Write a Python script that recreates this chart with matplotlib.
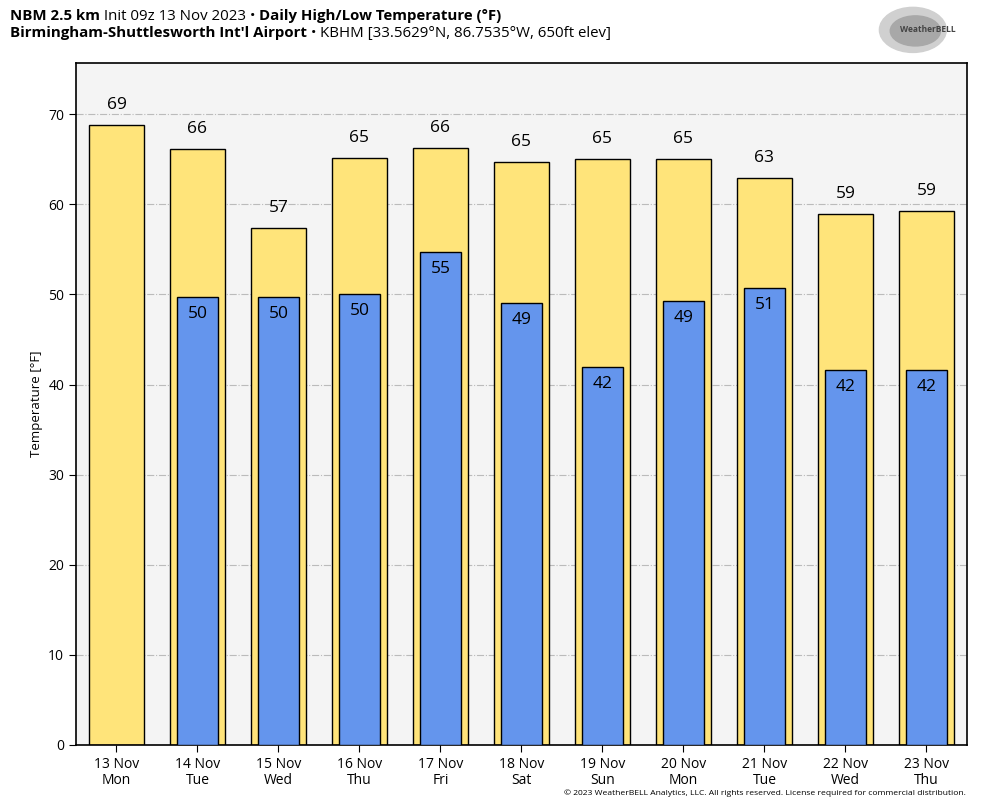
import matplotlib.pyplot as plt
from matplotlib.patches import Ellipse

plt.rcParams['font.family'] = ['Open Sans', 'DejaVu Sans']

# 日期与星期
dates = ['13 Nov', '14 Nov', '15 Nov', '16 Nov', '17 Nov', '18 Nov',
         '19 Nov', '20 Nov', '21 Nov', '22 Nov', '23 Nov']
days = ['Mon', 'Tue', 'Wed', 'Thu', 'Fri', 'Sat', 'Sun', 'Mon', 'Tue', 'Wed', 'Thu']

# 每日最高/最低气温 (°F)
highs = [68.8, 66.1, 57.4, 65.1, 66.3, 64.7, 65.0, 65.0, 62.9, 58.9, 59.3]
lows = [None, 49.7, 49.7, 50.0, 54.7, 49.1, 41.9, 49.3, 50.7, 41.6, 41.6]

fig = plt.figure(figsize=(9.84, 8.08), dpi=100)
ax = fig.add_axes([0.0772, 0.078, 0.9055, 0.844])
ax.set_facecolor('#f4f4f4')

x = list(range(len(dates)))

# 高温柱
ax.bar(x, highs, width=0.69, color='#ffe47a', edgecolor='black', linewidth=1, zorder=2)
for i, h in enumerate(highs):
    ax.annotate(f'{round(h)}', (i, h), xytext=(0, 20), textcoords='offset pixels',
                ha='center', va='center', fontsize=12.5, zorder=4)

# 低温柱
for i, lo in enumerate(lows):
    if lo is None:
        continue
    ax.bar(i, lo, width=0.5, color='#6495ed', edgecolor='black', linewidth=1, zorder=3)
    ax.annotate(f'{round(lo)}', (i, lo), xytext=(0, -17), textcoords='offset pixels',
                ha='center', va='center', fontsize=12.5, zorder=4)

ax.set_xlim(-0.5, len(dates) - 0.5)
ax.set_ylim(0, max(highs) * 1.1)
ax.set_yticks(range(0, 71, 10))
ax.set_xticks(x)
ax.set_xticklabels([f'{d}\n{w}' for d, w in zip(dates, days)], fontsize=10, linespacing=1.1)
ax.tick_params(axis='y', labelsize=10)
ax.tick_params(direction='out', length=5)
ax.grid(axis='y', color='#bbbbbb', linestyle='-.', linewidth=0.8, zorder=1)
ax.set_axisbelow(True)
for s in ax.spines.values():
    s.set_linewidth(1.2)
ax.set_ylabel('Temperature [°F]', fontsize=9.5)

# 标题 (混合粗细, 逐段排列)
renderer = fig.canvas.get_renderer()
def text_line(y, parts):
    xpix = 10
    for txt, w in parts:
        t = fig.text(xpix / 984, y, txt, fontsize=10.8, fontweight=w, va='baseline')
        xpix += t.get_window_extent(renderer).width

text_line(0.975, [('NBM 2.5 km', 'bold'), (' Init 09z 13 Nov 2023', 'normal'),
                  (' \u2022 ', 'normal'), ('Daily High/Low Temperature (°F)', 'bold')])
text_line(0.954, [('Birmingham-Shuttlesworth Int\u2032l Airport', 'bold'), (' \u2022 ', 'normal'),
                  ('KBHM [33.5629°N, 86.7535°W, 650ft elev]', 'normal')])

# 标志
lax = fig.add_axes([0.892, 0.932, 0.085, 0.062])
lax.set_xlim(0, 1)
lax.set_ylim(0, 1)
lax.axis('off')
lax.add_patch(Ellipse((0.42, 0.5), 0.8, 0.9, color='#d0d0d0'))
lax.add_patch(Ellipse((0.45, 0.48), 0.6, 0.6, color='#a8a8a8'))
lax.text(0.6, 0.5, 'WeatherBELL', fontsize=6, color='#444444', ha='center', va='center',
         fontweight='bold')

fig.text(0.982, 0.013, '© 2023 WeatherBELL Analytics, LLC. All rights reserved. License required for commercial distribution.',
         fontsize=6.1, ha='right', va='bottom')

plt.savefig('out.png', dpi=100)
